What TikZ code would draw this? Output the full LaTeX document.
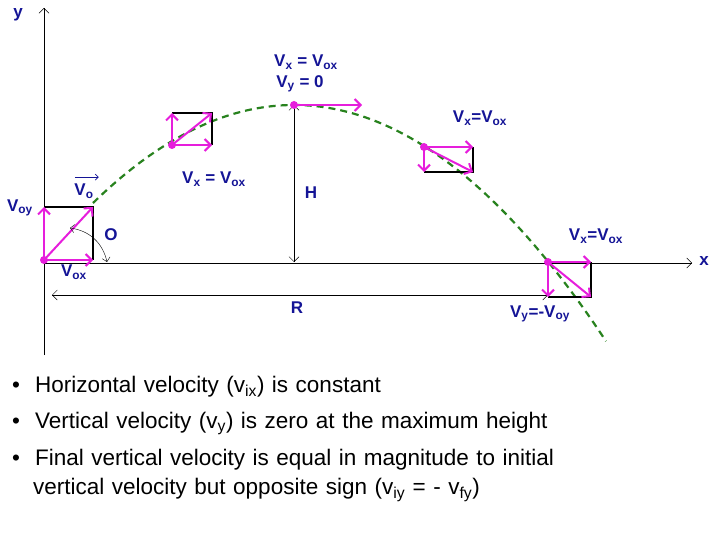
\documentclass[tikz,border=0pt]{standalone}
\usepackage{fontspec}
\setmainfont{Liberation Sans}
\usetikzlibrary{arrows.meta}
\definecolor{vecpink}{RGB}{230,30,220}
\definecolor{lblblue}{RGB}{20,20,150}
\definecolor{pathgreen}{RGB}{40,130,30}
\newcommand{\sbs}[1]{\textsubscript{#1}}
\begin{document}
\begin{tikzpicture}[x=1pt,y=-1pt,
    axis/.style={-{Straight Barb[length=5pt]}, thin},
    dim/.style={{Straight Barb[length=5pt]}-{Straight Barb[length=5pt]}, thin},
    vec/.style={-{Straight Barb[length=6pt]}, vecpink, line width=2pt},
    boxline/.style={black, line width=1.6pt},
    lbl/.style={text=lblblue, font=\bfseries\fontsize{17}{19}\selectfont, inner sep=1pt},
    dot/.style={circle, fill=vecpink, inner sep=0pt, minimum size=8pt},
    bullet/.style={anchor=north west, align=left, font=\fontsize{22.5}{29}\selectfont, text width=680pt, inner sep=0pt}
  ]
  \useasboundingbox (0,0) rectangle (720,540);

  % axes
  \coordinate (o) at (44,263);
  \coordinate (ytop) at (44,8);
  \coordinate (ybot) at (44,355);
  \coordinate (xend) at (692,263);
  \draw[thin] (ybot) -- (o);
  \draw[axis] (o) -- (ytop);
  \draw[axis] (o) -- (xend);
  \node[lbl] (ylbl) at (18,15) {y};
  \node[lbl] (xlbl) at (704,261) {x};

  % trajectory
  \draw[pathgreen, line width=2.2pt, dash pattern=on 7pt off 5pt]
    plot[domain=93:606, samples=80, smooth] (\x, {105+0.002433*(\x-294)*(\x-294)});

  % range and height
  \coordinate (rl) at (52,295);
  \coordinate (rr) at (548,295);
  \draw[dim] (rl) -- (rr);
  \node[lbl] (rlbl) at (297,308) {R};
  \coordinate (htop) at (294,105);
  \coordinate (hbot) at (294,262);
  \draw[dim] (htop) -- (hbot);
  \node[lbl] (hlbl) at (311,193) {H};

  % launch
  \node[dot] (p0) at (44,260) {};
  \draw[boxline] (44,207) -| (93,260);
  \draw[vec] (p0.center) -- (44,207);
  \draw[vec] (p0.center) -- (93,260);
  \draw[vec] (p0.center) -- (93,207);
  \draw[{Straight Barb[length=4pt]}-{Straight Barb[length=4pt]}, thin] (70,228) to[bend left=35] (107,262);
  \node[lbl] (theta) at (111,235) {O};
  \node[lbl] (vo) at (84,186) {\rlap{\raisebox{15pt}{\tikz[x=1pt,y=1pt]\draw[-{Straight Barb[length=3pt]},lblblue,thick](0,0)--(24,0);}}V\sbs{o}};
  \node[lbl] (voy) at (20,208) {V\sbs{oy}};
  \node[lbl] (vox) at (74,272) {V\sbs{ox}};

  % rising
  \node[dot] (p1) at (172,145) {};
  \draw[boxline] (172,113) -| (212,145);
  \draw[vec] (p1.center) -- (172,113);
  \draw[vec] (p1.center) -- (212,145);
  \draw[vec] (p1.center) -- (212,113);
  \node[lbl] (l1) at (214,179) {V\sbs{x} = V\sbs{ox}};

  % peak
  \node[dot] (p2) at (294,105) {};
  \draw[vec] (p2.center) -- (362,105);
  \node[lbl] (l2a) at (306,62) {V\sbs{x} = V\sbs{ox}};
  \node[lbl] (l2b) at (300,84) {V\sbs{y} = 0};

  % falling
  \node[dot] (p3) at (424,147) {};
  \draw[boxline] (424,172) -| (473,147);
  \draw[vec] (p3.center) -- (473,147);
  \draw[vec] (p3.center) -- (424,172);
  \draw[vec] (p3.center) -- (473,172);
  \node[lbl] (l3) at (480,118) {V\sbs{x}=V\sbs{ox}};

  % landing
  \node[dot] (p4) at (548,262) {};
  \draw[boxline] (548,297) -| (591,262);
  \draw[vec] (p4.center) -- (591,262);
  \draw[vec] (p4.center) -- (548,297);
  \draw[vec] (p4.center) -- (591,297);
  \node[lbl] (l4a) at (596,236) {V\sbs{x}=V\sbs{ox}};
  \node[lbl] (l4b) at (540,314) {V\sbs{y}=-V\sbs{oy}};

  % notes
  \node[bullet] (b1) at (12,376) {\textbullet\ \ Horizontal velocity (v\sbs{ix}) is constant};
  \node[bullet] (b2) at (12,412) {\textbullet\ \ Vertical velocity (v\sbs{y}) is zero at the maximum height};
  \node[bullet] (b3) at (12,449) {\textbullet\ \ Final vertical velocity is equal in magnitude to initial\\
    \hspace*{21pt}vertical velocity but opposite sign (v\sbs{iy} = - v\sbs{fy})};
\end{tikzpicture}
\end{document}
